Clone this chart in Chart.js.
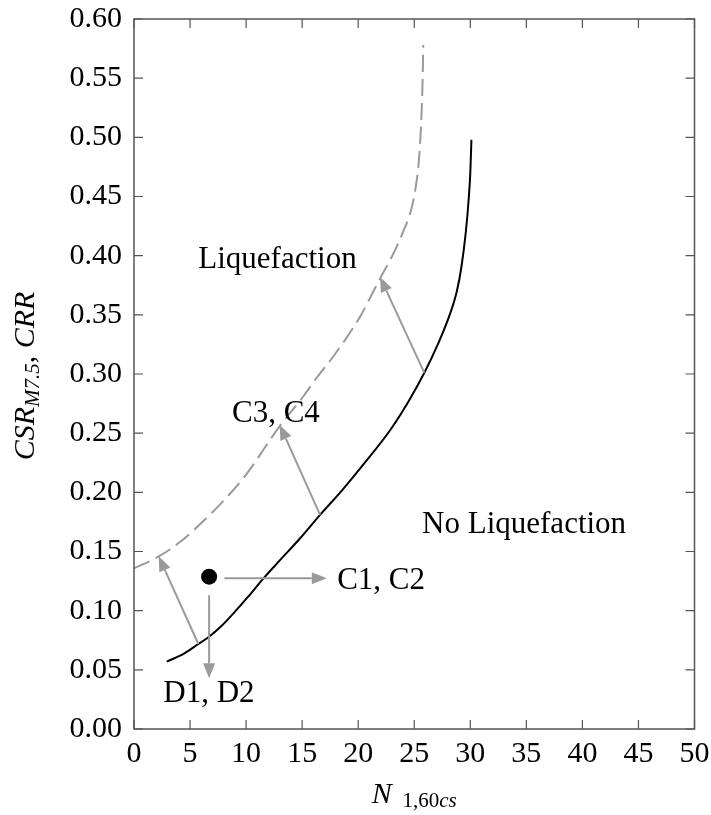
<!DOCTYPE html>
<html>
<head>
<meta charset="utf-8">
<script src="https://cdn.jsdelivr.net/npm/chart.js@4.4.0/dist/chart.umd.min.js"></script>
<style>
  html, body { margin: 0; padding: 0; background: #fff; }
  #wrap { position: relative; width: 711px; height: 815px; }
</style>
</head>
<body>
<div id="wrap"><canvas id="chart"></canvas></div>
<script>
// CRR base curve (solid black)
const crrN = [2.92, 4.5, 5.74, 6.64, 7.8, 8.87, 10.2, 11.55, 12.9, 14.8, 16.6, 18.5, 20.5, 22.86, 24.5, 25.9, 27.1, 28.2, 28.8, 29.2, 29.6, 29.85, 30.0, 30.1];
const crrValue = [0.0569, 0.064, 0.0718, 0.0775, 0.087, 0.0977, 0.112, 0.1273, 0.1414, 0.161, 0.181, 0.201, 0.224, 0.2527, 0.277, 0.301, 0.325, 0.351, 0.37, 0.39, 0.42, 0.447, 0.47, 0.498];

// shifted curve (dashed gray)
const shiftN = [0, 2.17, 4.1, 6.0, 8.0, 10.0, 13.0, 15.1, 16.0, 18.1, 20.2, 21.96, 23.1, 24.0, 24.7, 25.1, 25.45, 25.65, 25.75, 25.8];
const shiftValue = [0.1358, 0.1456, 0.158, 0.174, 0.193, 0.215, 0.256, 0.281, 0.293, 0.319, 0.349, 0.381, 0.401, 0.42, 0.438, 0.456, 0.485, 0.52, 0.55, 0.578];

// site point
const siteN = [6.7];
const siteCSR = [0.1287];

// arrows: start -> end
const arrowFromN = [5.74, 16.6, 25.9, 8.06, 6.7];
const arrowFromY = [0.0718, 0.181, 0.301, 0.1275, 0.113];
const arrowToN = [2.2, 13.0, 21.95, 17.2, 6.7];
const arrowToY = [0.146, 0.257, 0.382, 0.1275, 0.0428];

// text labels (baseline anchor)
const noteText = ['Liquefaction', 'No Liquefaction', 'C3, C4', 'C1, C2', 'D1, D2'];
const noteN = [12.8, 34.8, 12.66, 22.04, 6.68];
const noteY = [0.3896, 0.1659, 0.2597, 0.118, 0.0231];

const xTickValues = [0, 5, 10, 15, 20, 25, 30, 35, 40, 45, 50];
const yTickValues = [0, 0.05, 0.1, 0.15, 0.2, 0.25, 0.3, 0.35, 0.4, 0.45, 0.5, 0.55, 0.6];

const SERIF = '"Liberation Serif", "Times New Roman", serif';
const GRAY = '#9a9a9a';

function pts(xs, ys) {
  return xs.map((x, i) => ({ x: x, y: ys[i] }));
}

function drawArrow(ctx, x1, y1, x2, y2) {
  const ang = Math.atan2(y2 - y1, x2 - x1);
  const c = Math.cos(ang), s = Math.sin(ang);
  const headLen = 15, headHalf = 6;
  const bx = x2 - headLen * c, by = y2 - headLen * s;
  ctx.beginPath();
  ctx.moveTo(x1, y1);
  ctx.lineTo(bx, by);
  ctx.stroke();
  ctx.beginPath();
  ctx.moveTo(x2, y2);
  ctx.lineTo(bx - headHalf * s, by + headHalf * c);
  ctx.lineTo(bx + headHalf * s, by - headHalf * c);
  ctx.closePath();
  ctx.fill();
}

// draws runs of [text, font, baselineShift] left to right, centred on 0
function drawRuns(ctx, runs) {
  let total = 0;
  runs.forEach(r => { ctx.font = r[1]; total += ctx.measureText(r[0]).width; });
  let x = -total / 2;
  runs.forEach(r => {
    ctx.font = r[1];
    ctx.fillText(r[0], x, r[2]);
    x += ctx.measureText(r[0]).width;
  });
}

const framePlugin = {
  id: 'frame',
  afterDraw(chart) {
    const ctx = chart.ctx;
    const a = chart.chartArea;
    const xs = chart.scales.x, ys = chart.scales.y;
    ctx.save();
    ctx.strokeStyle = '#555';
    ctx.lineWidth = 1.5;
    ctx.strokeRect(a.left, a.top, a.right - a.left, a.bottom - a.top);
    ctx.lineWidth = 1.2;
    const tl = 9;
    ctx.beginPath();
    xTickValues.forEach(v => {
      const px = xs.getPixelForValue(v);
      ctx.moveTo(px, a.bottom); ctx.lineTo(px, a.bottom - tl);
      ctx.moveTo(px, a.top); ctx.lineTo(px, a.top + tl);
    });
    yTickValues.forEach(v => {
      const py = ys.getPixelForValue(v);
      ctx.moveTo(a.left, py); ctx.lineTo(a.left + tl, py);
      ctx.moveTo(a.right, py); ctx.lineTo(a.right - tl, py);
    });
    ctx.stroke();

    // axis titles
    ctx.fillStyle = '#000';
    ctx.textBaseline = 'alphabetic';
    ctx.textAlign = 'left';
    ctx.save();
    ctx.translate(33.5, (a.top + a.bottom) / 2 + 2);
    ctx.rotate(-Math.PI / 2);
    drawRuns(ctx, [
      ['CSR', 'italic 30px ' + SERIF, 0],
      ['M7.5', 'italic 21px ' + SERIF, 5],
      [', ', '30px ' + SERIF, 0],
      ['CRR', 'italic 30px ' + SERIF, 0]
    ]);
    ctx.restore();

    ctx.save();
    ctx.translate((a.left + a.right) / 2, 803);
    drawRuns(ctx, [
      ['N', 'italic 30px ' + SERIF, 0],
      ['  1,60', '21px ' + SERIF, 3.7],
      ['cs', 'italic 21px ' + SERIF, 3.7]
    ]);
    ctx.restore();
    ctx.restore();
  },
  afterDatasetsDraw(chart) {
    const ctx = chart.ctx;
    const xs = chart.scales.x, ys = chart.scales.y;
    ctx.save();
    ctx.strokeStyle = GRAY;
    ctx.fillStyle = GRAY;
    ctx.lineWidth = 2;
    ctx.setLineDash([]);
    arrowFromN.forEach((n, i) => {
      drawArrow(ctx,
        xs.getPixelForValue(n), ys.getPixelForValue(arrowFromY[i]),
        xs.getPixelForValue(arrowToN[i]), ys.getPixelForValue(arrowToY[i]));
    });
    ctx.fillStyle = '#000';
    ctx.font = '31px ' + SERIF;
    ctx.textAlign = 'center';
    ctx.textBaseline = 'alphabetic';
    noteText.forEach((t, i) => {
      ctx.fillText(t, xs.getPixelForValue(noteN[i]), ys.getPixelForValue(noteY[i]));
    });
    ctx.restore();
  }
};

new Chart(document.getElementById('chart'), {
  type: 'scatter',
  data: {
    datasets: [
      {
        data: pts(shiftN, shiftValue),
        showLine: true,
        borderColor: GRAY,
        borderWidth: 2,
        borderDash: [17, 7],
        pointRadius: 0,
        cubicInterpolationMode: 'monotone'
      },
      {
        data: pts(crrN, crrValue),
        showLine: true,
        borderColor: '#000',
        borderWidth: 2,
        pointRadius: 0,
        cubicInterpolationMode: 'monotone'
      },
      {
        data: pts(siteN, siteCSR),
        showLine: false,
        pointRadius: 8,
        pointBackgroundColor: '#000',
        pointBorderColor: '#000',
        borderWidth: 0
      }
    ]
  },
  options: {
    responsive: true,
    maintainAspectRatio: false,
    devicePixelRatio: 1,
    animation: false,
    layout: { padding: { top: 19, right: 16.5, left: 0, bottom: 0 } },
    plugins: { legend: { display: false }, tooltip: { enabled: false } },
    scales: {
      x: {
        type: 'linear',
        min: 0,
        max: 50,
        grid: { display: false, drawTicks: false },
        border: { display: false },
        afterBuildTicks: s => { s.ticks = xTickValues.map(v => ({ value: v })); },
        afterFit: s => { s.height = 86; s.paddingLeft = 0; s.paddingRight = 0; },
        ticks: {
          color: '#000',
          padding: 7,
          maxRotation: 0,
          font: { family: SERIF, size: 30 },
          callback: v => String(v)
        }
      },
      y: {
        type: 'linear',
        min: 0,
        max: 0.6,
        grid: { display: false, drawTicks: false },
        border: { display: false },
        afterBuildTicks: s => { s.ticks = yTickValues.map(v => ({ value: v })); },
        afterFit: s => { s.width = 134; s.paddingTop = 0; s.paddingBottom = 0; },
        ticks: {
          color: '#000',
          padding: 12,
          font: { family: SERIF, size: 30 },
          callback: v => Number(v).toFixed(2)
        }
      }
    }
  },
  plugins: [framePlugin]
});
</script>
</body>
</html>
